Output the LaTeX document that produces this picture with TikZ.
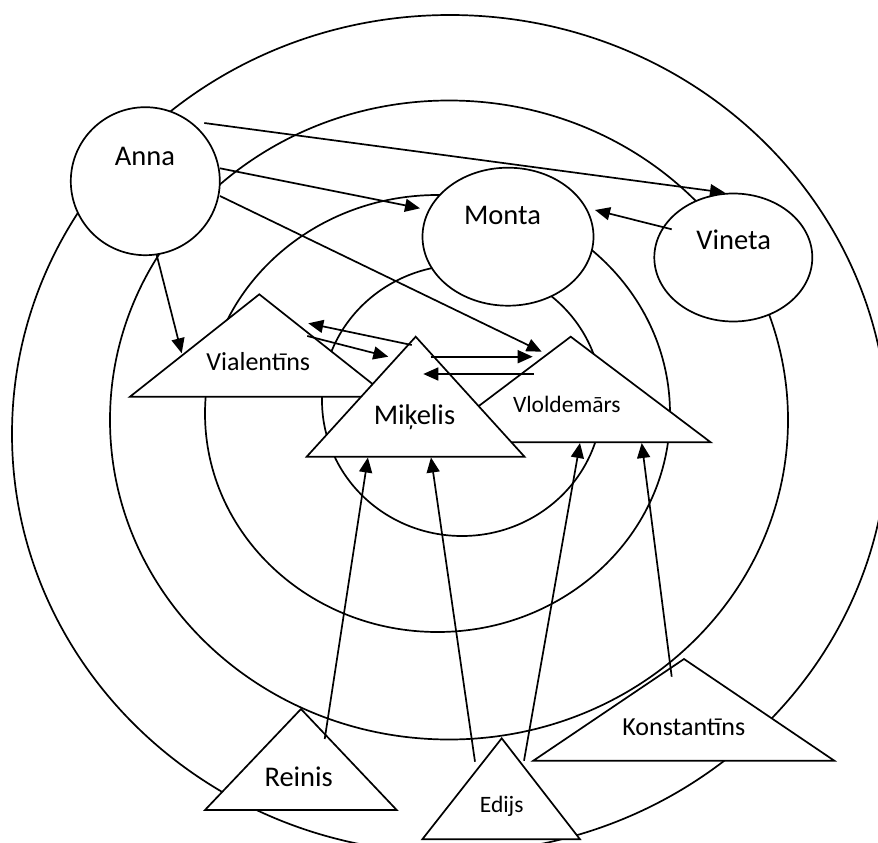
\documentclass[tikz,border=0pt]{standalone}
\usepackage{fontspec}
\setmainfont{Carlito}
\usetikzlibrary{shapes.geometric,arrows.meta}

\begin{document}
\begin{tikzpicture}[x=1pt, y=-1pt, line width=1.7pt,
  ring/.style={draw, ellipse, inner sep=0pt},
  person/.style={draw, fill=white, ellipse, inner sep=0pt},
  tri/.style={draw, fill=white},
  lbl/.style={anchor=base, inner sep=0pt},
  big/.style={font=\fontsize{28.5}{30}\selectfont},
  mid/.style={font=\fontsize{26}{28}\selectfont},
  small/.style={font=\fontsize{23.5}{25}\selectfont},
  link/.style={-{Triangle[length=15pt,width=13pt]}}
]
\useasboundingbox (0,0) rectangle (878,843);

% concentric rings
\node[ring, minimum width=876pt, minimum height=838pt] (ringA) at (450,434) {};
\node[ring, minimum width=678pt, minimum height=639pt] (ringB) at (449,420) {};
\node[ring, minimum width=465pt, minimum height=437pt] (ringC) at (437.5,413.5) {};
\node[ring, minimum width=280pt, minimum height=271pt] (ringD) at (462,400.5) {};

% round nodes
\node[person, minimum width=149pt, minimum height=148pt] (anna) at (145.3,181.2) {};
\node[lbl, big] (annaT) at (145,165) {Anna};
\node[person, minimum width=171pt, minimum height=138pt] (monta) at (508,236.7) {};
\node[lbl, big] (montaT) at (502.5,224) {Monta};
\node[person, minimum width=158pt, minimum height=128pt] (vineta) at (733.3,257.5) {};
\node[lbl, big] (vinetaT) at (733.7,249) {Vineta};

% triangular nodes
\draw[tri] (259.3,294.3) -- (130,396.7) -- (388.6,396.7) -- cycle;
\node[lbl, mid] (vial) at (258.3,370.7) {Vialentīns};
\draw[tri] (570.7,336.7) -- (430.7,442.3) -- (710.7,442.3) -- cycle;
\node[lbl, small] (vlol) at (566.8,412.7) {Vloldemārs};
\draw[tri] (415.7,336.7) -- (306.7,456.7) -- (524.5,456.7) -- cycle;
\node[lbl, big] (mike) at (414.5,424.3) {Miķelis};
\draw[tri] (301,709) -- (205,810) -- (396.7,810) -- cycle;
\node[lbl, big] (rein) at (298.7,786.7) {Reinis};
\draw[tri] (501.7,738.3) -- (422.3,839.3) -- (580,839.3) -- cycle;
\node[lbl, small] (edij) at (501.7,812.7) {Edijs};
\draw[tri] (684,659) -- (533.3,760.7) -- (834.3,760.7) -- cycle;
\node[lbl, mid] (kons) at (683.8,735) {Konstantīns};

% connector end points
\coordinate (a1) at (204.3,123);   \coordinate (v1) at (725,192.7);
\coordinate (a2) at (220,168.3);   \coordinate (m1) at (420,208.3);
\coordinate (a3) at (220,196);     \coordinate (d1) at (541.7,351.7);
\coordinate (a4) at (156.7,255);   \coordinate (l1) at (181.7,353.3);
\coordinate (v2) at (671.7,229.3); \coordinate (m2) at (595,210);
\coordinate (k1) at (411.7,345);   \coordinate (l2) at (308.3,323.3);
\coordinate (l3) at (307.3,336);   \coordinate (k2) at (388.3,356.7);
\coordinate (k3) at (430.7,356.7); \coordinate (d2) at (532.7,356.7);
\coordinate (d3) at (534,374);     \coordinate (k4) at (423.3,374);
\coordinate (r1) at (324.7,739);   \coordinate (k5) at (367.9,457.5);
\coordinate (e1) at (475,761.7);   \coordinate (k6) at (431,457.5);
\coordinate (e2) at (524,760.7);   \coordinate (d4) at (580,443);
\coordinate (c1) at (671.7,676.7); \coordinate (d5) at (641.7,443);

% connectors
\draw[link] (a1) -- (v1);
\draw[link] (a2) -- (m1);
\draw[link] (a3) -- (d1);
\draw[link] (a4) -- (l1);
\draw[link] (v2) -- (m2);
\draw[link] (k1) -- (l2);
\draw[link] (l3) -- (k2);
\draw[link] (k3) -- (d2);
\draw[link] (d3) -- (k4);
\draw[link] (r1) -- (k5);
\draw[link] (e1) -- (k6);
\draw[link] (e2) -- (d4);
\draw[link] (c1) -- (d5);
\end{tikzpicture}
\end{document}
